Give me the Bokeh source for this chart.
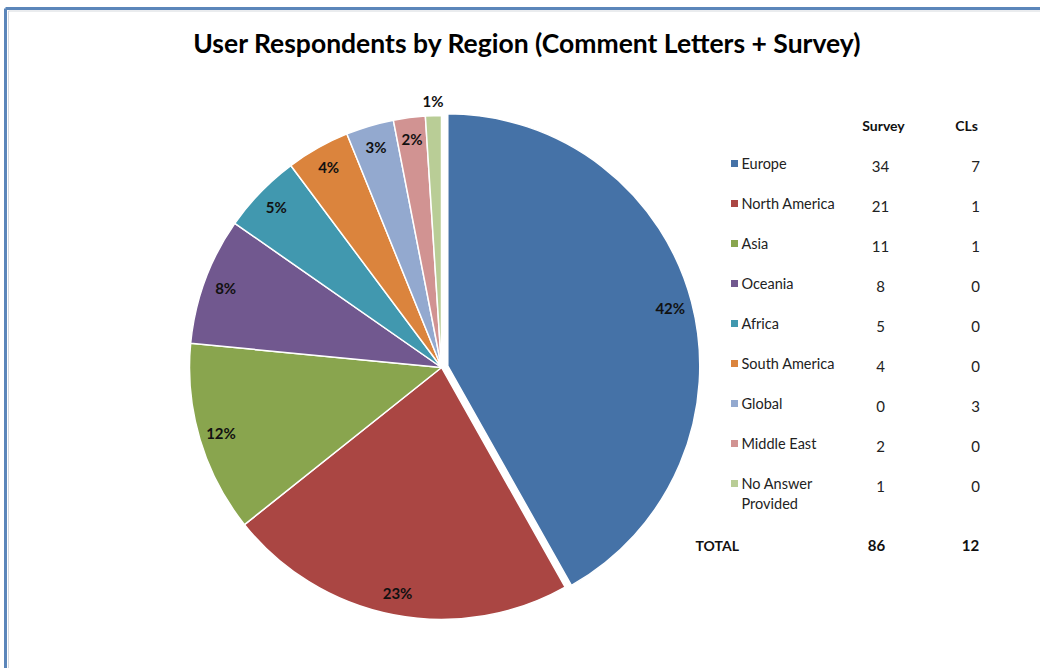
import numpy as np
from bokeh.plotting import figure
from bokeh.models import ColumnDataSource, Range1d
from bokeh.core.properties import value
from bokeh.embed import file_html
from bokeh.resources import INLINE

# ---- data ----
regions = ["Europe", "North America", "Asia", "Oceania", "Africa",
           "South America", "Global", "Middle East", "No Answer\nProvided"]
survey = [34, 21, 11, 8, 5, 4, 0, 2, 1]
cls = [7, 1, 1, 0, 0, 0, 3, 0, 0]
pct_labels = ["42%", "23%", "12%", "8%", "5%", "4%", "3%", "2%", "1%"]
colors = ["#4572A7", "#AA4643", "#89A54E", "#71588F", "#4198AF",
          "#DB843D", "#93A9CF", "#D19392", "#B9CD96"]
title = "User Respondents by Region (Comment Letters + Survey)"

# ---- layout ----
W, H = 1040, 668
FONT = "Lato"
cx, cy_s, R = 441, 367, 252
explode = [6.5, 0, 0, 0, 0, 0, 0, 0, 0]

def Y(sy):
    return H - sy

p = figure(width=W, height=H, output_backend="svg", toolbar_location=None,
           x_range=Range1d(0, W), y_range=Range1d(0, H), min_border=0)
p.axis.visible = False
p.grid.visible = False
p.outline_line_color = None
p.background_fill_color = "white"
p.border_fill_color = "white"

# frame border (top / left edges of the chart area)
p.segment(x0=[5, 5], y0=[Y(8), Y(8)], x1=[W + 10, 5], y1=[Y(8), -10],
          line_color="#5B86BA", line_width=3)
p.segment(x0=[8, 8], y0=[Y(10.5), Y(10.5)], x1=[W + 10, 8], y1=[Y(10.5), -10],
          line_color="#D5D9DE", line_width=1)

# ---- pie ----
totals = np.array(survey) + np.array(cls)
frac = totals / totals.sum()
c1 = np.cumsum(frac)
c0 = c1 - frac
start = np.pi / 2 - 2 * np.pi * c0
end = np.pi / 2 - 2 * np.pi * c1
mid = (start + end) / 2
ex = np.array(explode)
xs = cx + ex * np.cos(mid)
ys = Y(cy_s) + ex * np.sin(mid)
src = ColumnDataSource(dict(x=xs, y=ys, start=start, end=end, color=colors))
p.wedge(x="x", y="y", radius=R, start_angle="start", end_angle="end",
        direction="clock", fill_color="color", line_color="white",
        line_width=1.5, source=src)

# percentage labels
lr = np.where(frac < 0.015, 267, 230)
lsrc = ColumnDataSource(dict(x=xs + lr * np.cos(mid), y=ys + lr * np.sin(mid),
                             t=pct_labels))
p.text(x="x", y="y", text="t", source=lsrc, text_align="center",
       text_baseline="middle", text_font=value(FONT), text_font_style="bold",
       text_font_size="15px", text_color="#111111")

# title
p.text(x=[527], y=[Y(42)], text=[title], text_align="center",
       text_baseline="middle", text_font=value(FONT), text_font_style="bold",
       text_font_size="26.5px", text_color="black")

# ---- table legend ----
row0, step = 163, 40
rows_s = np.array([row0 + i * step for i in range(len(regions))], dtype=float)
rows_y = Y(rows_s)
sq_x, lab_x, sv_x, cl_x = 734, 741, 880, 975
p.rect(x=[sq_x] * len(regions), y=rows_y, width=7, height=7,
       fill_color=colors, line_color=None)
p.text(x=[lab_x] * len(regions), y=Y(rows_s - 9), text=regions,
       text_align="left", text_baseline="top", text_font=value(FONT),
       text_font_size="14.5px", text_color="#222222", text_line_height=1.2)
vy = rows_y - 3
p.text(x=[sv_x] * len(regions), y=vy, text=[str(v) for v in survey],
       text_align="center", text_baseline="middle", text_font=value(FONT),
       text_font_size="15px", text_color="#222222")
p.text(x=[cl_x] * len(regions), y=vy, text=[str(v) for v in cls],
       text_align="center", text_baseline="middle", text_font=value(FONT),
       text_font_size="15px", text_color="#222222")
# headers
p.text(x=[883, 966], y=[Y(125)] * 2, text=["Survey", "CLs"],
       text_align="center", text_baseline="middle", text_font=value(FONT),
       text_font_style="bold", text_font_size="14px", text_color="#111111")
# totals
p.text(x=[695], y=[Y(545)], text=["TOTAL"], text_align="left",
       text_baseline="middle", text_font=value(FONT), text_font_style="bold",
       text_font_size="14px", text_color="#111111")
p.text(x=[876, 970], y=[Y(545)] * 2, text=[str(sum(survey)), str(sum(cls))],
       text_align="center", text_baseline="middle", text_font=value(FONT),
       text_font_style="bold", text_font_size="15px", text_color="#111111")

open("out.html", "w").write(file_html(p, INLINE))
